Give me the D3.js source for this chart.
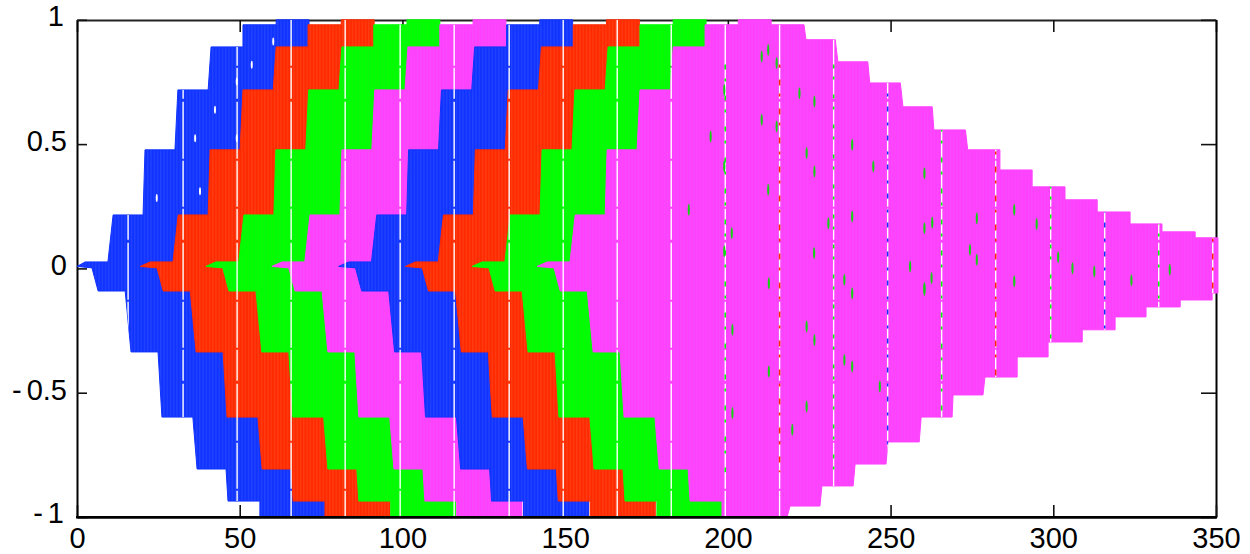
<!DOCTYPE html>
<html>
<head>
<meta charset="utf-8">
<script src="https://d3js.org/d3.v7.min.js"></script>
<style>
html,body{margin:0;padding:0;background:#fff;}
svg{display:block;}
text{font-family:"Liberation Sans",Arial,sans-serif;font-size:29px;fill:#000;}
</style>
</head>
<body>
<svg id="chart" width="1250" height="554"></svg>
<script>
// ---- axis labels ----
const xTicks = [0,50,100,150,200,250,300,350];
const yTicks = [-1,-0.5,0,0.5,1];

// ---- colours ----
const blue = "#1033ff", red = "#ff2a00", green = "#00ff00", magenta = "#ff40ff";

// ---- envelope levels shared by the rising part of every packet ----
const riseUpper = [.008,.026,.026,.215,.215,.477,.477,.718,.718,.891,.891,.98,.98,1,1];
const riseLower = [.008,.002,-.091,-.091,-.336,-.336,-.598,-.598,-.807,-.807,-.936,-.936,-1,-1];

// ---- time of each envelope point, per packet ----
const blue1UpperX  = [0,2.5,9.5,11.1,20.3,20.9,30.1,31,40.3,41.2,51,51,61.2,61.2,71.3];
const red1UpperX   = [19.4,22.5,29.5,31.1,40.3,40.9,50.1,51,60.3,61.2,71,71,81.2,81.2,91.3];
const green1UpperX = [39.6,42.7,49.7,51.3,60.5,61.1,70.3,71.2,80.5,81.4,91.2,91.2,101.4,101.4,111.5];
const mag1UpperX   = [59.9,63,70,71.6,80.8,81.4,90.6,91.5,100.8,101.7,111.5,111.5,121.7,121.7,131.8];
const blue2UpperX  = [80.4,83.5,90.5,92.1,101.3,101.9,111.1,112,121.3,122.2,132,132,142.2,142.2,152.3];
const red2UpperX   = [100.9,104,111,112.6,121.8,122.4,131.6,132.5,141.8,142.7,152.5,152.5,162.7,162.7,172.8];
const green2UpperX = [121.4,124.5,131.5,133.1,142.3,142.9,152.1,153,162.3,163.2,173,173,183.2,183.2,193.3];
const mag2UpperX   = [141.4,144.5,151.5,153.1,162.3,162.9,172.1,173,182.3,183.2,193,193,203.2,203.2,213.3];

const blue1LowerX  = [0,4.6,6.5,14.8,16.6,24.9,26.1,35.6,36.9,45.8,46.4,56.2,56.2,76.2];
const red1LowerX   = [19.4,24.6,26.5,34.8,36.6,44.9,46.1,55.6,56.9,65.8,66.4,76.2,76.2,96.2];
const green1LowerX = [39.6,44.8,46.7,55,56.8,65.1,66.3,75.8,77.1,86,86.6,96.4,96.4,116.4];
const mag1LowerX   = [59.9,65.1,67,75.3,77.1,85.4,86.6,96.1,97.4,106.3,106.9,116.7,116.7,136.7];
const blue2LowerX  = [80.4,85.6,87.5,95.8,97.6,105.9,107.1,116.6,117.9,126.8,127.4,137.2,137.2,157.2];
const red2LowerX   = [100.9,106.1,108,116.3,118.1,126.4,127.6,137.1,138.4,147.3,147.9,157.7,157.7,177.7];
const green2LowerX = [121.4,126.6,128.5,136.8,138.6,146.9,148.1,157.6,158.9,167.8,168.4,178.2,178.2,198.2];
const mag2LowerX   = [141.4,146.6,148.5,156.8,158.6,166.9,168.1,177.6,178.9,187.8,188.4,198.2,198.2,218.2];

// ---- decay of the last packet ----
const fallUpperX = [213.3,223.4,224,233,233.8,243,243.6,253,253.8,262.8,263.3,273,273.7,283.6,283.6,293.5,293.5,303.6,303.6,313.5,313.5,323.6,323.6,333.4,333.4,343.6,343.6,350.6];
const fallUpperY = [.98,.98,.92,.92,.831,.831,.746,.746,.65,.65,.557,.557,.477,.477,.396,.396,.328,.328,.276,.276,.227,.227,.179,.179,.147,.147,.123,.123];
const fallLowerX = [219.1,228.3,228.9,238.5,239.1,248.6,249.2,258.8,259.4,268.9,269.2,278.4,279,288.9,288.9,298.4,298.4,308.9,308.9,319,319,328.5,328.5,339,339,348.8,348.8,350.6];
const fallLowerY = [-.956,-.956,-.875,-.875,-.787,-.787,-.698,-.698,-.598,-.598,-.509,-.509,-.437,-.437,-.356,-.356,-.296,-.296,-.247,-.247,-.195,-.195,-.155,-.155,-.127,-.127,-.099,-.099];

// ---- periodic vertical gaps in the sampled traces ----
const gapTimes = [15.7,32.6,49.2,65.8,82.4,99.3,115.9,132.8,149.4,166,182.6,199.2,215.9,232.5,249.1,265.7,282.3,299.2,315.8,332.4,349];

// ---- small lens shaped specks where an earlier trace shows through ----
const greenSpeckX = [198.9,198.9,198.9,194.7,210.4,212.4,215,226.6,224.2,226.6,230.9,222,215,201.2,188,210.4,212.4,238.2,244.7,238.2,260.4,260.4,226.5,212.6,224.2,226.6,238.2,235.8,235.8,238.2,212.6,201.4,201.4,224.2,219.8,260.4,246.7,262.8,256,262.6,260.4,276.5,276.5,274.4,288,288,294.9,301.5,305.9,312.6,324,335.8];
const greenSpeckY = [.718,.41,.069,.531,.852,.879,.826,.671,.464,.39,.182,.705,.571,.142,.236,.598,.316,.497,.41,.209,.383,.162,.062,-.06,-.234,-.288,-.1,-.046,-.368,-.395,-.415,-.247,-.582,-.556,-.649,-.087,-.475,.185,.008,-.039,-.079,.202,.035,.075,.236,-.052,.179,.045,.001,-.012,-.048,-.005];
const whiteSpeckX = [36.3,42.4,49.1,49.1,37.8,24.5,53.7,60.3];
const whiteSpeckY = [.524,.638,.752,.524,.31,.283,.819,.913];

const margin = {left:77, right:1216, top:19.8, bottom:517};
const x = d3.scaleLinear().domain([0,350]).range([margin.left, margin.right]);
const y = d3.scaleLinear().domain([-1,1]).range([margin.bottom, margin.top]);

const svg = d3.select("#chart");
const defs = svg.append("defs");

const zip = (xs, ys) => xs.map((v,i) => [v, ys[i]]);
const closeOf = (ux, lx) => [[lx[lx.length-1], -.9], [ux[ux.length-1], -.9]];

const packetDefs = [
  ["blue1",  blue,    blue1UpperX,  blue1LowerX],
  ["red1",   red,     red1UpperX,   red1LowerX],
  ["green1", green,   green1UpperX, green1LowerX],
  ["mag1",   magenta, mag1UpperX,   mag1LowerX],
  ["blue2",  blue,    blue2UpperX,  blue2LowerX],
  ["red2",   red,     red2UpperX,   red2LowerX],
  ["green2", green,   green2UpperX, green2LowerX],
  ["mag2",   magenta, mag2UpperX,   mag2LowerX]
];

const packets = packetDefs.map(([name,color,ux,lx],i) => {
  let up = zip(ux, riseUpper), lo = zip(lx, riseLower);
  if (name === "mag2") {
    up = up.concat(zip(fallUpperX, fallUpperY));
    lo = lo.concat(zip(fallLowerX, fallLowerY));
  } else {
    lo = lo.concat(closeOf(ux, lx));
  }
  return {name, color, pts: up.concat(lo.reverse())};
});

const line = d3.line().x(d => x(d[0])).y(d => y(d[1]));

// stripe texture for each colour: the dense vertical strokes of the traces
[[ "blue", blue, "#2f50ff"], ["red", red, "#ff4a22"], ["green", green, "#12f012"], ["magenta", magenta, "#f452f4"]]
.forEach(([id, base, stripe]) => {
  const p = defs.append("pattern").attr("id","tex-"+id)
    .attr("patternUnits","userSpaceOnUse").attr("width",3.25).attr("height",40);
  p.append("rect").attr("width",3.25).attr("height",40).attr("fill",base);
  p.append("rect").attr("x",1.2).attr("width",0.7).attr("height",40).attr("fill",stripe);
});
const texOf = c => c===blue?"blue":c===red?"red":c===green?"green":"magenta";

defs.append("clipPath").attr("id","traces").selectAll("path").data(packets).join("path").attr("d", d => line(d.pts)+"Z");

// ---- axes under the traces (top, right, left and ticks) ----
const axisG = svg.append("g");
const styleAxis = g => {
  g.selectAll(".domain").attr("stroke","#000").attr("stroke-width",2);
  g.selectAll(".tick line").attr("stroke","#111").attr("stroke-width",1.6);
  g.attr("font-family",null).attr("font-size",null);
};
axisG.append("g").attr("transform",`translate(0,${margin.top+0.2})`)
  .call(d3.axisTop(x).tickValues(xTicks).tickSizeInner(-12).tickSizeOuter(0).tickFormat("")).call(styleAxis)
  .selectAll(".domain").attr("stroke-width",1.8).attr("stroke","#222");
axisG.append("g").attr("transform",`translate(${margin.right},0)`)
  .call(d3.axisRight(y).tickValues(yTicks).tickSizeInner(-15).tickSizeOuter(0).tickFormat("")).call(styleAxis);
const bottomTicks = axisG.append("g").attr("transform",`translate(0,${margin.bottom})`)
  .call(d3.axisBottom(x).tickValues(xTicks).tickSizeInner(-12).tickSizeOuter(0).tickPadding(8).tickFormat(d3.format("d"))).call(styleAxis);
bottomTicks.selectAll("text").attr("dy","0.72em").attr("y",10);
const leftAxis = axisG.append("g").attr("transform",`translate(${margin.left},0)`)
  .call(d3.axisLeft(y).tickValues(yTicks).tickSizeInner(-10).tickSizeOuter(0).tickPadding(10).tickFormat(d => String(d))).call(styleAxis);
leftAxis.selectAll("text").each(function(d){
  const t = d3.select(this);
  t.attr("dy","0.22em").attr("x",-10);
  if (d < 0) {
    const s = String(d);
    t.text(null);
    t.append("tspan").style("letter-spacing","5px").text("-");
    t.append("tspan").text(s.slice(1));
  }
});
leftAxis.selectAll(".tick").filter(d => d === 1 || d === -1).select("text").attr("x",-13).attr("dy","0.2em");

// ---- traces ----
svg.append("g").selectAll("path").data(packets).join("path")
  .attr("d", d => line(d.pts)+"Z")
  .attr("fill", d => `url(#tex-${texOf(d.color)})`)
  .attr("stroke", d => d.color).attr("stroke-width",1).attr("stroke-linejoin","round");

// ---- gaps and specks, only inside the traces ----
const over = svg.append("g").attr("clip-path","url(#traces)");
over.selectAll(".gap").data(gapTimes).join("line").attr("class","gap")
  .attr("x1",d=>x(d)).attr("x2",d=>x(d)).attr("y1",margin.top).attr("y2",margin.bottom)
  .attr("stroke","#fff").attr("stroke-width",1.4).attr("stroke-dasharray","46 2 31 3 57 2");
over.selectAll(".gapdot").data(gapTimes.filter(d => d > 190)).join("line").attr("class","gapdot")
  .attr("x1",d=>x(d)).attr("x2",d=>x(d)).attr("y1",y(.82)).attr("y2",y(-.82))
  .attr("stroke",(d,i)=>[green,red,green,blue][i%4]).attr("stroke-width",1.5)
  .attr("stroke-dasharray",(d,i)=>["5 9 3 14","3 12 6 8","4 8 3 15","3 10 5 11"][i%4]);
over.selectAll(".gs").data(zip(greenSpeckX,greenSpeckY)).join("ellipse").attr("class","gs")
  .attr("cx",d=>x(d[0])).attr("cy",d=>y(d[1])).attr("rx",1.1).attr("ry",6).attr("fill","#18d018");
over.selectAll(".ws").data(zip(whiteSpeckX,whiteSpeckY)).join("ellipse").attr("class","ws")
  .attr("cx",d=>x(d[0])).attr("cy",d=>y(d[1])).attr("rx",1).attr("ry",4).attr("fill","#fff");

// ---- bottom frame line drawn over the traces ----
svg.append("line").attr("x1",margin.left-1).attr("x2",margin.right+1).attr("y1",y(-1)+0.3).attr("y2",y(-1)+0.3)
  .attr("stroke","#000").attr("stroke-width",2.4);
</script>
</body>
</html>
